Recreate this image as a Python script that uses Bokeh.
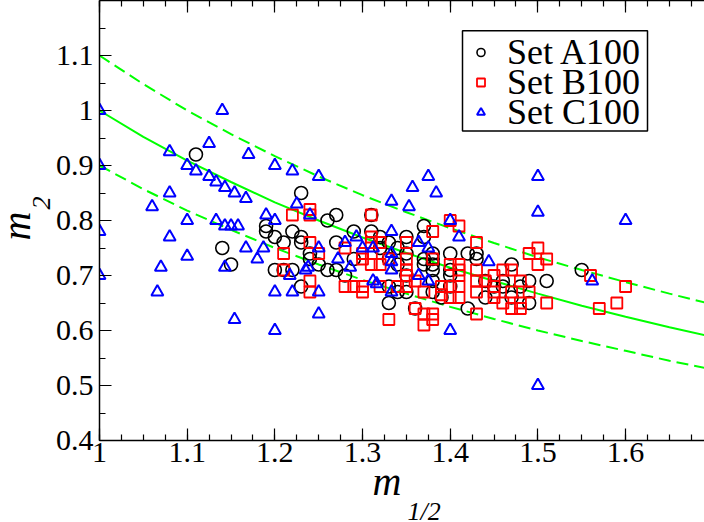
from bokeh.plotting import figure
from bokeh.models import (Range1d, FixedTicker, CustomJSTickFormatter, LinearAxis,
                          Legend, Title, BoxAnnotation)
from bokeh.embed import file_html
from bokeh.resources import INLINE

# ---------------- data ----------------
setA_x = [1.11, 1.23, 1.19, 1.19, 1.20, 1.21, 1.22, 1.23, 1.23, 1.24, 1.24, 1.14, 1.15,
          1.20, 1.21, 1.22, 1.23, 1.27, 1.26, 1.31, 1.27, 1.29, 1.31, 1.32, 1.33, 1.35,
          1.37, 1.37, 1.25, 1.29, 1.28, 1.27, 1.26, 1.32, 1.34, 1.35, 1.38, 1.38, 1.40,
          1.42, 1.33, 1.34, 1.35, 1.37, 1.37, 1.38, 1.38, 1.38, 1.40, 1.40, 1.40, 1.33,
          1.34, 1.35, 1.38, 1.39, 1.33, 1.36, 1.42, 1.43, 1.43, 1.47, 1.49, 1.51, 1.55,
          1.44, 1.44, 1.46, 1.46, 1.48, 1.49, 1.47, 1.45]
setA_y = [0.92, 0.85, 0.79, 0.78, 0.77, 0.76, 0.78, 0.77, 0.76, 0.74, 0.73, 0.75, 0.72,
          0.71, 0.71, 0.71, 0.68, 0.81, 0.80, 0.81, 0.76, 0.78, 0.78, 0.77, 0.76, 0.77,
          0.79, 0.77, 0.72, 0.73, 0.70, 0.71, 0.71, 0.75, 0.75, 0.74, 0.74, 0.73, 0.74,
          0.74, 0.73, 0.72, 0.70, 0.73, 0.72, 0.72, 0.71, 0.69, 0.71, 0.70, 0.68, 0.68,
          0.67, 0.67, 0.67, 0.66, 0.65, 0.64, 0.64, 0.74, 0.73, 0.72, 0.69, 0.69, 0.71,
          0.69, 0.66, 0.69, 0.68, 0.68, 0.65, 0.66, 0.68]

setB_x = [1.22, 1.24, 1.24, 1.31, 1.24, 1.25, 1.21, 1.28, 1.21, 1.24, 1.24, 1.28, 1.29,
          1.30, 1.30, 1.30, 1.30, 1.31, 1.31, 1.31, 1.31, 1.32, 1.32, 1.32, 1.33, 1.33,
          1.34, 1.35, 1.35, 1.35, 1.35, 1.35, 1.36, 1.36, 1.37, 1.37, 1.37, 1.38, 1.38,
          1.38, 1.38, 1.39, 1.39, 1.40, 1.41, 1.40, 1.41, 1.41, 1.41, 1.41, 1.41, 1.40,
          1.40, 1.43, 1.49, 1.50, 1.51, 1.50, 1.43, 1.43, 1.45, 1.46, 1.47, 1.44, 1.48,
          1.45, 1.45, 1.45, 1.43, 1.47, 1.49, 1.46, 1.47, 1.48, 1.48, 1.51, 1.43, 1.56,
          1.60, 1.59, 1.57]
setB_y = [0.81, 0.82, 0.81, 0.81, 0.76, 0.74, 0.74, 0.75, 0.71, 0.69, 0.67, 0.68, 0.68,
          0.68, 0.67, 0.74, 0.73, 0.77, 0.76, 0.74, 0.72, 0.76, 0.72, 0.68, 0.73, 0.62,
          0.68, 0.76, 0.73, 0.71, 0.70, 0.68, 0.69, 0.64, 0.67, 0.63, 0.61, 0.63, 0.62,
          0.78, 0.73, 0.68, 0.665, 0.80, 0.79, 0.72, 0.72, 0.71, 0.70, 0.68, 0.66, 0.68,
          0.66, 0.76, 0.74, 0.75, 0.73, 0.72, 0.71, 0.69, 0.70, 0.71, 0.71, 0.69, 0.69,
          0.68, 0.67, 0.66, 0.67, 0.67, 0.67, 0.65, 0.64, 0.64, 0.65, 0.65, 0.63, 0.70,
          0.68, 0.65, 0.64]

setC_x = [1.00, 1.14, 1.08, 1.125, 1.10, 1.11, 1.00, 1.125, 1.17, 1.133, 1.143, 1.154,
          1.167, 1.20, 1.22, 1.25, 1.225, 1.24, 1.08, 1.06, 1.10, 1.133, 1.143, 1.15,
          1.158, 1.19, 1.20, 1.167, 1.187, 1.18, 1.143, 1.08, 1.10, 1.07, 1.066, 1.217,
          1.235, 1.20, 1.22, 1.25, 1.154, 1.20, 1.25, 1.00, 1.00, 1.375, 1.50, 1.357,
          1.384, 1.333, 1.353, 1.40, 1.41, 1.25, 1.28, 1.293, 1.30, 1.312, 1.333, 1.364,
          1.375, 1.333, 1.333, 1.333, 1.272, 1.286, 1.238, 1.312, 1.316, 1.364, 1.375,
          1.333, 1.40, 1.50, 1.60, 1.444, 1.562, 1.50]
setC_y = [1.00, 1.00, 0.925, 0.94, 0.90, 0.89, 0.90, 0.88, 0.92, 0.87, 0.86, 0.85,
          0.84, 0.90, 0.89, 0.88, 0.83, 0.81, 0.85, 0.825, 0.80, 0.80, 0.79, 0.79,
          0.79, 0.81, 0.80, 0.75, 0.75, 0.73, 0.715, 0.77, 0.735, 0.715, 0.67, 0.70,
          0.71, 0.67, 0.67, 0.67, 0.62, 0.60, 0.63, 0.78, 0.70, 0.88, 0.88, 0.86,
          0.85, 0.835, 0.825, 0.80, 0.77, 0.75, 0.76, 0.77, 0.75, 0.75, 0.78, 0.76,
          0.75, 0.74, 0.725, 0.71, 0.73, 0.715, 0.715, 0.69, 0.685, 0.70, 0.69,
          0.67, 0.60, 0.815, 0.80, 0.725, 0.69, 0.50]

curve_x = [1.00, 1.05, 1.10, 1.15, 1.20, 1.25, 1.30, 1.35, 1.40, 1.45, 1.50, 1.55, 1.60, 1.65, 1.70]
curve_mid = [1.000, 0.952, 0.909, 0.870, 0.833, 0.800, 0.769, 0.741, 0.714, 0.690, 0.667, 0.645, 0.625, 0.606, 0.588]
curve_up = [1.100, 1.048, 1.000, 0.957, 0.917, 0.880, 0.846, 0.815, 0.786, 0.759, 0.733, 0.710, 0.688, 0.667, 0.647]
curve_lo = [0.900, 0.857, 0.818, 0.783, 0.750, 0.720, 0.692, 0.667, 0.643, 0.621, 0.600, 0.581, 0.563, 0.545, 0.529]

x_ticks = [1.0, 1.1, 1.2, 1.3, 1.4, 1.5, 1.6]
x_minor = [1.0 + 0.025 * i for i in range(0, 29)]
y_ticks = [0.4, 0.5, 0.6, 0.7, 0.8, 0.9, 1.0, 1.1]
y_minor = [0.4 + 0.05 * i for i in range(0, 17)]

legend_labels = ["Set A100", "Set B100", "Set C100"]
x_title, x_sub = "m", "1/2"
y_title, y_sub = "m", "2"

# ---------------- figure ----------------
SERIF = "Liberation Serif"
p = figure(width=704, height=522, output_backend="svg", toolbar_location=None,
           x_range=Range1d(1.0, 1.69), y_range=Range1d(0.4, 1.2),
           min_border_left=99, min_border_right=0, min_border_top=0, min_border_bottom=82)
p.grid.visible = False
p.background_fill_color = "white"
p.border_fill_color = "white"
p.outline_line_color = None

fmt = CustomJSTickFormatter(code="return String(Math.round(tick*1000)/1000);")

p.xaxis[0].ticker = FixedTicker(ticks=x_ticks, minor_ticks=x_minor)
p.yaxis[0].ticker = FixedTicker(ticks=y_ticks, minor_ticks=y_minor)

for ax in (p.xaxis[0], p.yaxis[0]):
    ax.formatter = fmt
    ax.axis_line_color = "black"
    ax.axis_line_width = 1.5
    ax.major_tick_in = 12
    ax.major_tick_out = 0
    ax.minor_tick_in = 6
    ax.minor_tick_out = 0
    ax.major_tick_line_color = "black"
    ax.minor_tick_line_color = "black"
    ax.major_tick_line_width = 1.2
    ax.minor_tick_line_width = 1.2
    ax.major_label_text_font = SERIF
    ax.major_label_text_font_size = "30px"
    ax.major_label_text_color = "black"
p.yaxis[0].major_label_standoff = 6
p.xaxis[0].major_label_standoff = 2

# x axis title: italic m (trailing no-break spaces shift it left of centre)
p.xaxis[0].axis_label = x_title + "\u00a0\u00a0\u00a0"
p.xaxis[0].axis_label_text_font = SERIF
p.xaxis[0].axis_label_text_font_style = "italic"
p.xaxis[0].axis_label_text_font_size = "40px"
p.xaxis[0].axis_label_text_color = "black"
p.xaxis[0].axis_label_standoff = -6

top = LinearAxis(ticker=FixedTicker(ticks=x_ticks, minor_ticks=x_minor),
                 formatter=CustomJSTickFormatter(code="return '';"),
                 major_label_text_font_size="1px", major_label_standoff=0,
                 major_tick_in=12, major_tick_out=0, minor_tick_in=6, minor_tick_out=0,
                 axis_line_color="black", axis_line_width=1.5,
                 major_tick_line_width=1.2, minor_tick_line_width=1.2)
p.add_layout(top, "above")

# subscript of the x title
p.add_layout(Title(text=x_sub, align="left", offset=308, vertical_align="bottom",
                   standoff=-23, text_font=SERIF, text_font_style="italic",
                   text_font_size="26px", text_color="black"), "below")

# y title: subscript first (closest to the axis), then the italic m
p.add_layout(Title(text=y_sub, align="left", offset=231, vertical_align="bottom",
                   standoff=6, text_font=SERIF, text_font_style="italic",
                   text_font_size="26px", text_color="black"), "left")
p.add_layout(Title(text=y_title, align="left", offset=200, vertical_align="bottom",
                   standoff=-22, text_font=SERIF, text_font_style="italic",
                   text_font_size="40px", text_color="black"), "left")

# curves
GREEN = "#00ff00"
p.line(curve_x, curve_mid, line_color=GREEN, line_width=2)
p.line(curve_x, curve_up, line_color=GREEN, line_width=2, line_dash="12 6")
p.line(curve_x, curve_lo, line_color=GREEN, line_width=2, line_dash="12 6")

rA = p.scatter(setA_x, setA_y, marker="circle", size=13, fill_color=None,
               line_color="black", line_width=1.6)
rB = p.scatter(setB_x, setB_y, marker="square", size=11, fill_color=None,
               line_color="#ff0000", line_width=1.8)
rC = p.scatter(setC_x, setC_y, marker="triangle", size=12, fill_color=None,
               line_color="#0000ff", line_width=2)

# legend frame (white box with black border) behind the three legend rows
p.add_layout(BoxAnnotation(left=1.414, right=1.625, bottom=0.9626, top=1.1452,
                           fill_color="white", fill_alpha=1.0,
                           line_color="black", line_width=1.5, line_alpha=1.0))

for label, rend, loc_y in zip(legend_labels, [rA, rB, rC], [367, 337, 307]):
    lg = Legend(items=[(label, [rend])], location=(363, loc_y))
    lg.label_text_font = SERIF
    lg.label_text_font_size = "36px"
    lg.label_text_color = "black"
    lg.border_line_color = None
    lg.background_fill_alpha = 0.0
    lg.padding = 0
    lg.spacing = 0
    lg.margin = 0
    lg.label_standoff = 8
    lg.glyph_width = 37
    lg.glyph_height = 20
    p.add_layout(lg, "center")

open("out.html", "w").write(file_html(p, INLINE))
